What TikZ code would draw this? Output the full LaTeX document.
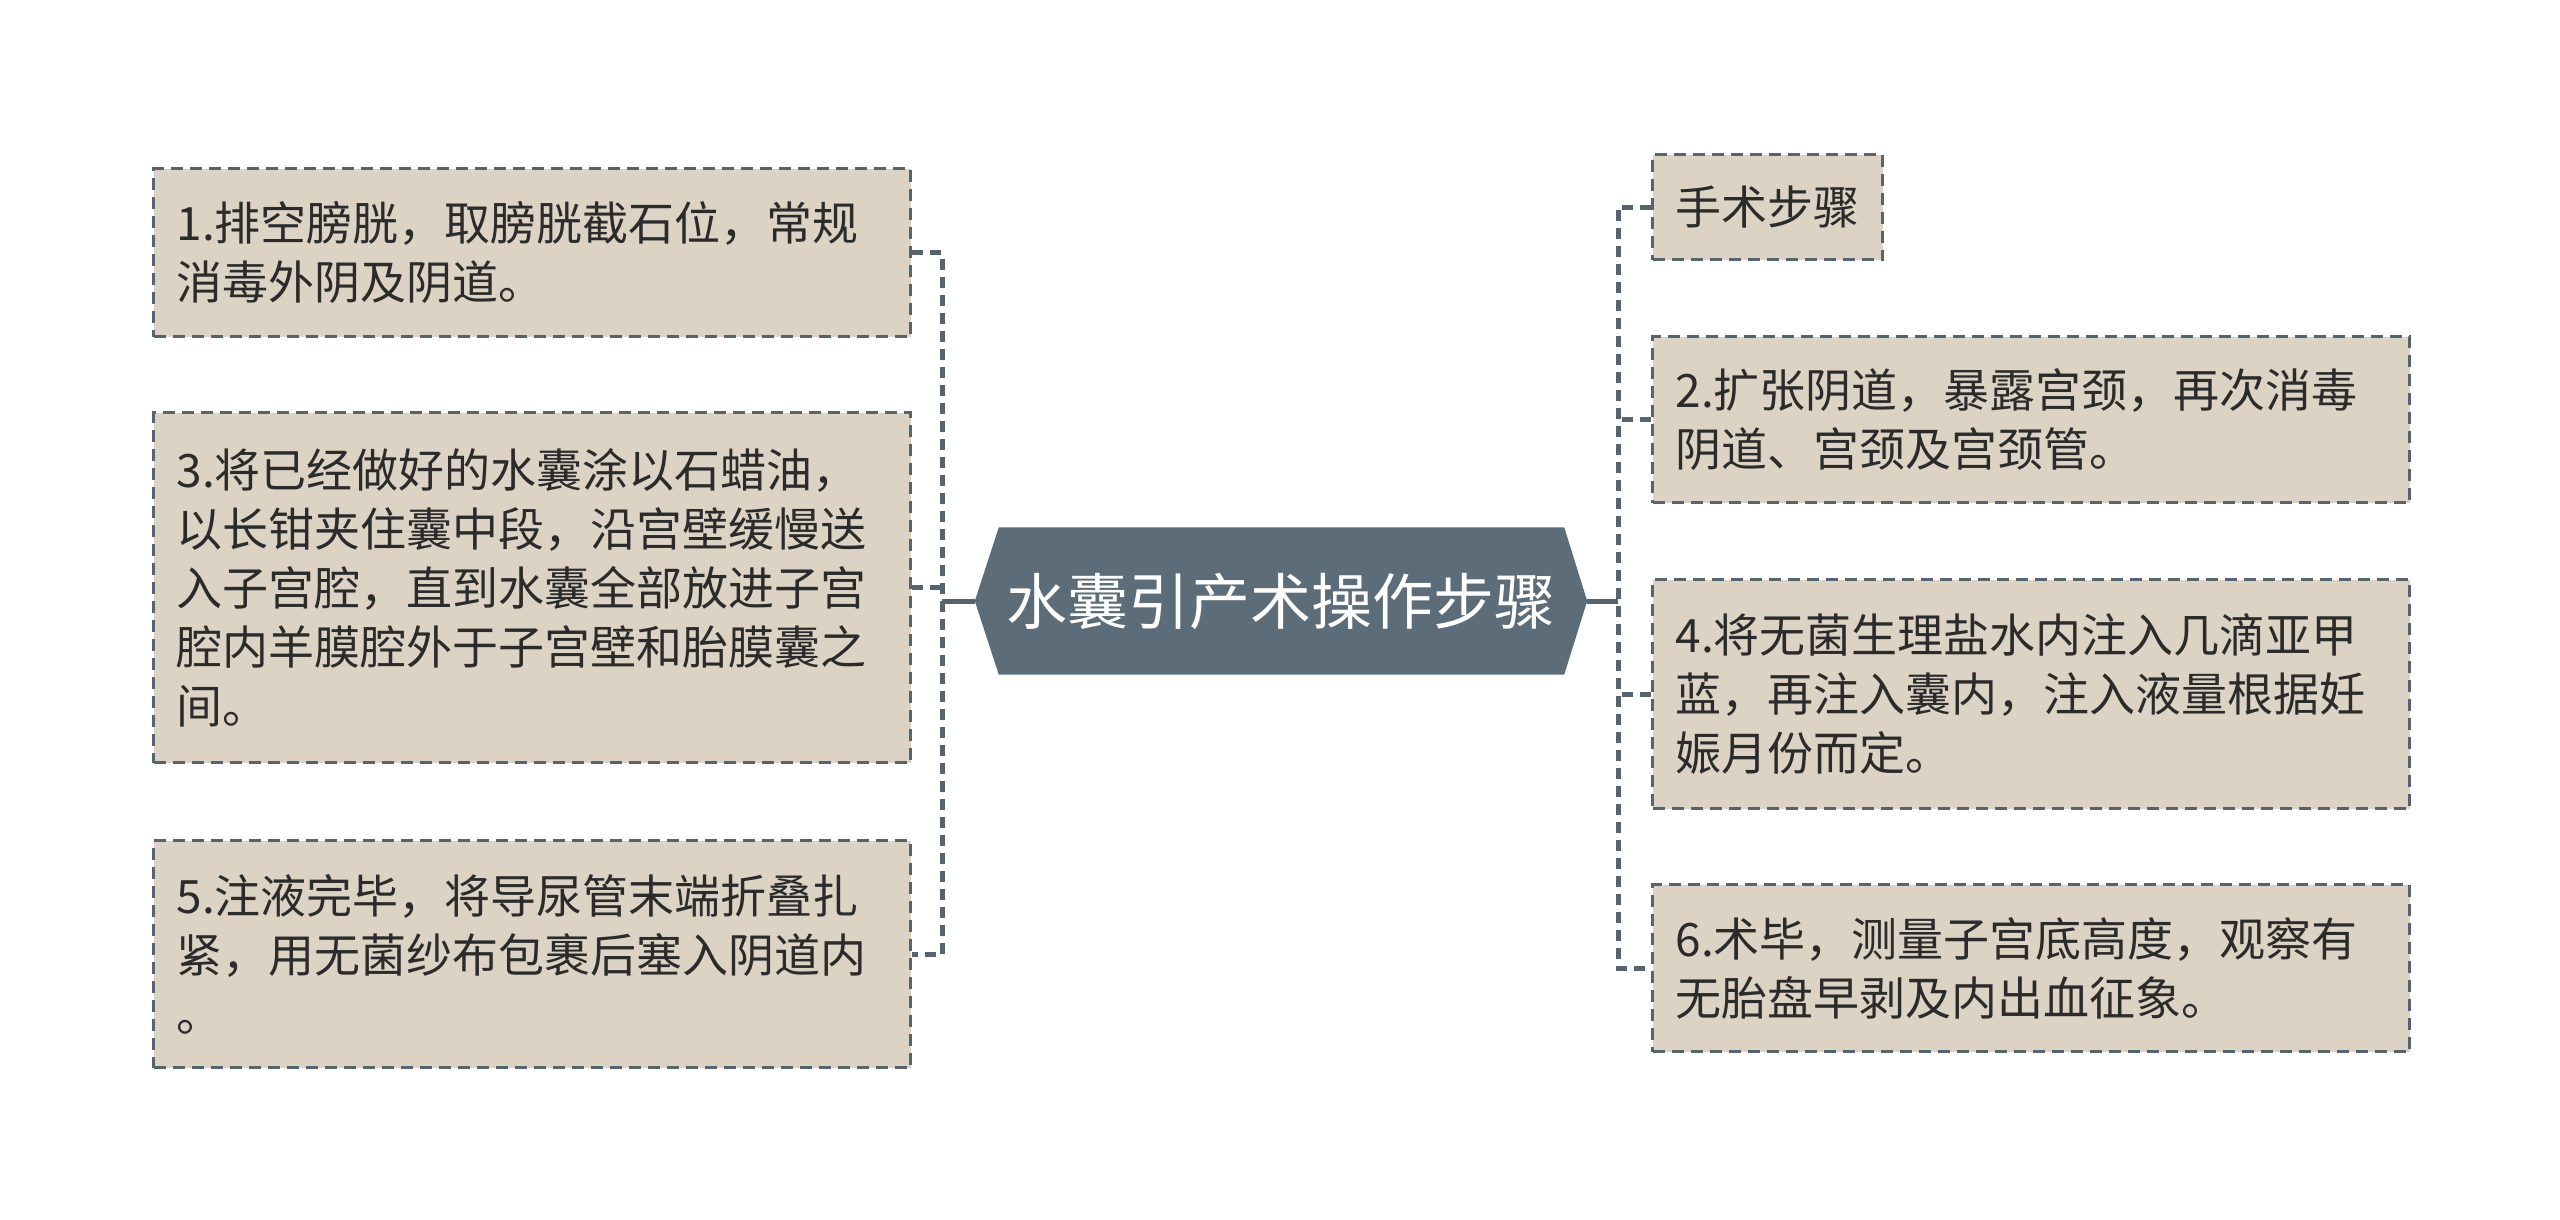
\documentclass[tikz,border=0pt]{standalone}
\usepackage{fontspec}
\newfontfamily\cjk{Noto Sans CJK SC}
\usetikzlibrary{backgrounds}
\definecolor{edgec}{HTML}{56646F}
\definecolor{hexfill}{HTML}{5C6D79}
\definecolor{boxfill}{HTML}{DDD3C4}
\definecolor{txt}{HTML}{2B2B2B}
\begin{document}
\begin{tikzpicture}[x=1pt,y=-1pt,
  box/.style={draw=edgec, fill=boxfill, dash pattern=on 12pt off 7pt, line width=3pt,
    inner xsep=23pt, inner ysep=0pt, anchor=north west, text=txt, align=left,
    font=\cjk\fontsize{46}{59}\selectfont},
  bigbox/.style={box, text width=711pt, minimum width=757pt},
  conn/.style={draw=edgec, line width=5pt, dash pattern=on 11pt off 7pt},
  link/.style={draw=edgec, line width=5pt}]
\useasboundingbox (0,0) rectangle (2560,1219);

% central node
\node[minimum width=612pt, minimum height=147pt, inner sep=0pt, text=white,
  font=\cjk\fontsize{61}{70}\selectfont] (title) at (1281,601) {水囊引产术操作步骤};

% left boxes
\node[bigbox, minimum height=168pt] (b1) at (152,167)
  {1.排空膀胱，取膀胱截石位，常规\\消毒外阴及阴道。};
\node[bigbox, minimum height=350pt] (b3) at (152,411)
  {3.将已经做好的水囊涂以石蜡油，\\以长钳夹住囊中段，沿宫壁缓慢送\\入子宫腔，直到水囊全部放进子宫\\腔内羊膜腔外于子宫壁和胎膜囊之\\间。};
\node[bigbox, minimum height=227pt] (b5) at (152,839)
  {5.注液完毕，将导尿管末端折叠扎\\紧，用无菌纱布包裹后塞入阴道内\\。};

% right boxes
\node[box, minimum width=228pt, minimum height=105pt] (r0) at (1651,153) {手术步骤};
\node[bigbox, minimum height=166pt] (r2) at (1651,335)
  {2.扩张阴道，暴露宫颈，再次消毒\\阴道、宫颈及宫颈管。};
\node[bigbox, minimum height=229pt] (r4) at (1651,578)
  {4.将无菌生理盐水内注入几滴亚甲\\蓝，再注入囊内，注入液量根据妊\\娠月份而定。};
\node[bigbox, minimum height=167pt] (r6) at (1651,883)
  {6.术毕，测量子宫底高度，观察有\\无胎盘早剥及内出血征象。};

% connectors
\coordinate (lv) at (942,601);
\coordinate (rv) at (1618,601);
\draw[conn] (b1.east) -| (lv) |- (b5.east);
\draw[conn] (b3.east) -- (b3.east -| lv);
\draw[link] (title.west) -- (lv);

\draw[conn] (r0.west) -| (rv) |- (r6.west);
\draw[conn] (r2.west) -- (r2.west -| rv);
\draw[conn] (r4.west) -- (r4.west -| rv);
\draw[link] (title.east) -- (rv);

\begin{pgfonlayer}{background}
  \fill[white] (0,0) rectangle (2560,1219);
  \fill[hexfill] (title.west) -- ([xshift=24pt]title.north west) -- ([xshift=-23pt]title.north east)
    -- (title.east) -- ([xshift=-23pt]title.south east) -- ([xshift=24pt]title.south west) -- cycle;
\end{pgfonlayer}
\end{tikzpicture}
\end{document}
